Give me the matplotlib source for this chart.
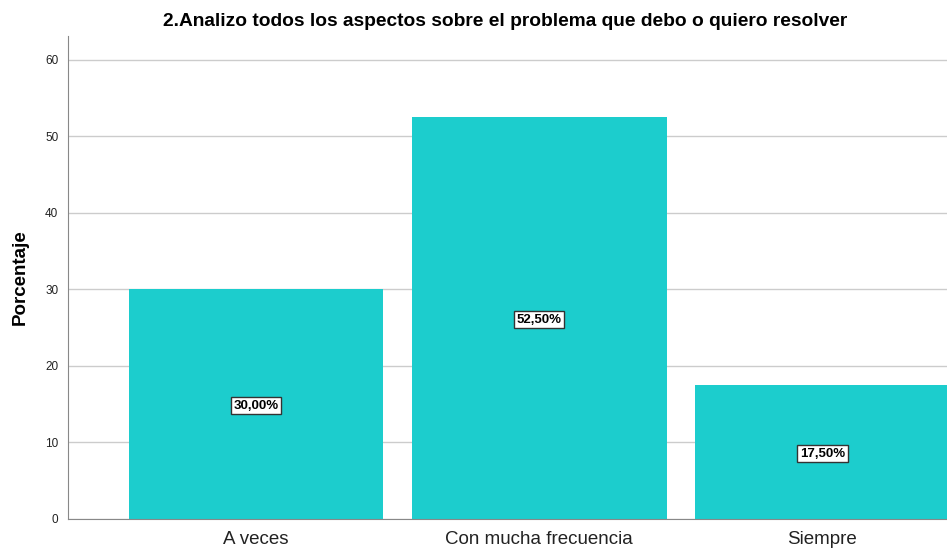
import matplotlib.pyplot as plt

# Datos de la gráfica
categorias = ["A veces", "Con mucha frecuencia", "Siempre"]
porcentajes = [30.0, 52.5, 17.5]
etiquetas = ["30,00%", "52,50%", "17,50%"]

fig = plt.figure(figsize=(9.47, 5.5), dpi=100)
ax = fig.add_axes([0.0718, 0.0564, 0.9282, 0.8781])

x = list(range(len(categorias)))
barras = ax.bar(x, porcentajes, width=0.9, color="#1ccdcd", zorder=2)

# Etiquetas en el centro de cada barra
for xi, v, txt in zip(x, porcentajes, etiquetas):
    ax.text(xi, v / 2, txt, ha="center", va="center_baseline", fontsize=9.5, fontweight="bold",
            family="Liberation Sans",
            bbox=dict(boxstyle="square,pad=0.2", facecolor="white", edgecolor="#333333", linewidth=1),
            zorder=3)

ax.set_xlim(-0.664, 2.44)
ax.set_ylim(0, 63.1)
ax.set_yticks([0, 10, 20, 30, 40, 50, 60])
ax.set_xticks(x)
ax.set_xticklabels(categorias, fontsize=13.5, family="Liberation Sans", color="#222222")
ax.tick_params(axis="y", labelsize=8.5, length=0, pad=7, colors="#222222")
ax.tick_params(axis="x", length=0, pad=9)
for lbl in ax.get_yticklabels():
    lbl.set_family("Liberation Sans")

ax.yaxis.grid(True, color="#cccccc", linewidth=1, zorder=0)
ax.set_axisbelow(True)
ax.spines["top"].set_visible(False)
ax.spines["right"].set_visible(False)
ax.spines["left"].set_color("#888888")
ax.spines["bottom"].set_color("#888888")

ax.set_ylabel("Porcentaje", fontsize=13.5, fontweight="bold", family="Liberation Sans", labelpad=12)
fig.text(0.533, 0.96, "2.Analizo todos los aspectos sobre el problema que debo o quiero resolver",
         ha="center", va="center", fontsize=13.8, fontweight="bold", family="Liberation Sans")

fig.savefig("out.png", dpi=100)
